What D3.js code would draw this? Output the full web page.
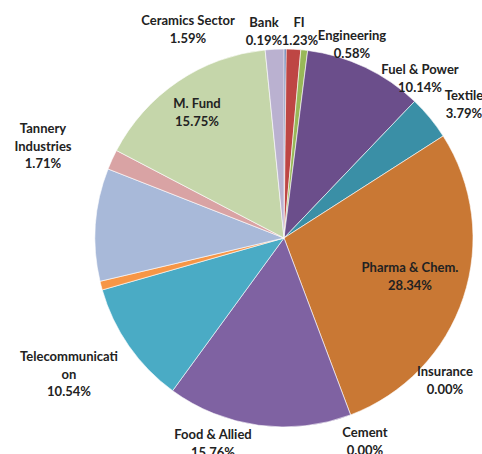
<!DOCTYPE html>
<html>
<head>
    <script src="https://d3js.org/d3.v7.min.js"></script>
    <style>
        body { margin: 0; background: #fff; }
        svg { display: block; }
        text { font-family: Lato, "Liberation Sans", sans-serif; font-weight: bold; font-size: 13px; fill: #222; }
    </style>
</head>
<body>
    <div id="chart"></div>
    <script>
        // sectors, clockwise from 12 o'clock
        const sectors = ["Bank", "FI", "Engineering", "Fuel & Power", "Textile", "Pharma & Chem.",
            "Insurance", "Cement", "Food & Allied", "Telecommunication", "Other A", "Other B",
            "Tannery Industries", "M. Fund", "Ceramics Sector"];
        const shares = [0.19, 1.23, 0.58, 10.14, 3.79, 28.34, 0.00, 0.00, 15.76, 10.54, 0.75, 9.63, 1.71, 15.75, 1.59];
        // label lines as printed (null = no label shown)
        const labelLines = [
            ["Bank"], ["FI"], ["Engineering"], ["Fuel & Power"], ["Textile"], ["Pharma & Chem."],
            ["Insurance"], ["Cement"], ["Food & Allied"], ["Telecommunicati", "on"], null, null,
            ["Tannery", "Industries"], ["M. Fund"], ["Ceramics Sector"]
        ];
        const colors = ["#4a64a0", "#be4644", "#98b858", "#6b4e8b", "#3a8fa6", "#c97834",
            "#c97834", "#c97834", "#7f62a2", "#4aabc5", "#f79646", "#a8b9d9",
            "#d9a3a4", "#c5d6aa", "#bab1d0"];

        const width = 482, height = 454;
        const cx = 284, cy = 238, radius = 189;

        // label anchor (centre of first line), placed by hand like the original
        const labelPos = {
            "Bank": [264, 22], "FI": [299, 22], "Engineering": [352, 35], "Fuel & Power": [420, 69],
            "Textile": [464, 95], "Pharma & Chem.": [410, 267], "Insurance": [445, 371],
            "Cement": [365, 432], "Food & Allied": [213, 434], "Telecommunication": [69, 356],
            "Tannery Industries": [43, 128], "M. Fund": [197, 103], "Ceramics Sector": [188, 20]
        };
        const pctOffsetX = { "Bank": 0, "FI": 1 };

        const svg = d3.select("#chart").append("svg")
            .attr("width", width)
            .attr("height", height);

        const pie = d3.pie().sort(null).value(d => d.value);
        const arc = d3.arc().innerRadius(0).outerRadius(radius);
        const data = sectors.map((s, i) => ({ name: s, value: shares[i], color: colors[i], lines: labelLines[i] }));

        svg.append("g")
            .attr("transform", `translate(${cx},${cy})`)
            .selectAll("path")
            .data(pie(data))
            .join("path")
            .attr("d", arc)
            .attr("fill", d => d.data.color)
            .attr("stroke", "#fff")
            .attr("stroke-width", d => d.data.value > 0 ? 0.6 : 0);

        const lineH = 17.5;
        const labels = svg.append("g")
            .selectAll("text")
            .data(data.filter(d => d.lines))
            .join("text")
            .attr("text-anchor", "middle")
            .attr("dominant-baseline", "central");

        labels.each(function(d) {
            const [x, y] = labelPos[d.name];
            const t = d3.select(this);
            const all = d.lines.concat([d.value.toFixed(2) + "%"]);
            all.forEach((line, i) => {
                t.append("tspan")
                    .attr("x", x + (i === all.length - 1 ? (pctOffsetX[d.name] || 0) : 0))
                    .attr("y", y + i * lineH)
                    .text(line);
            });
        });
    </script>
</body>
</html>
